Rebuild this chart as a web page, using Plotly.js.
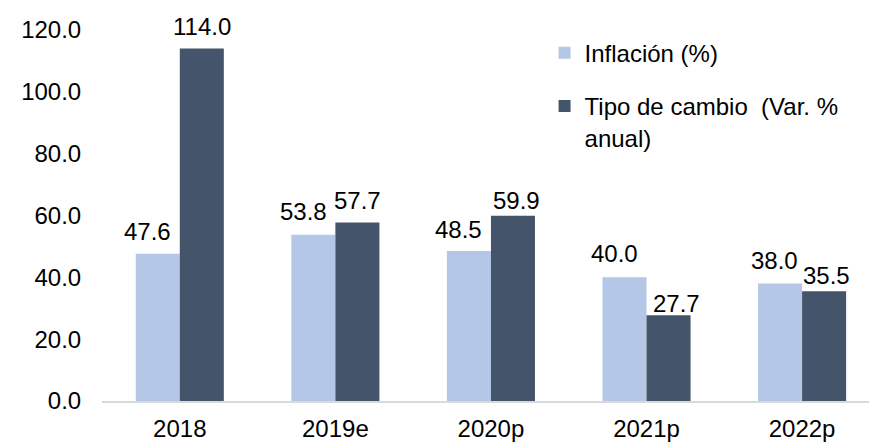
<!DOCTYPE html>
<html>
<head>
<meta charset="utf-8">
<script src="https://cdn.plot.ly/plotly-3.0.1.min.js"></script>
<style>html,body{margin:0;padding:0;background:#fff;}#chart{width:869px;height:443px;}</style>
</head>
<body>
<div id="chart"></div>
<script>
// ---- data ----
const categories = ['2018', '2019e', '2020p', '2021p', '2022p'];
const inflacion = [47.6, 53.8, 48.5, 40.0, 38.0];
const tipoCambio = [114.0, 57.7, 59.9, 27.7, 35.5];
const seriesNames = ['Inflación (%)', 'Tipo de cambio  (Var. %<br>anual)'];
const yTicks = [0, 20, 40, 60, 80, 100, 120];

// ---- label styling (pixel nudges, as in the original) ----
const inflLabelDx = [-10, -10, -10, -10, -6];
const inflLabelGap = [17, 18, 16, 18, 18];
const tcLabelDx = [0, 0, 4, 8, 2];
const tcLabelGap = [17, 17, 10, 6, 10];

const FONT = 'Liberation Sans, Arial, sans-serif';
const FS = 24;
const lightColor = '#b4c7e7';
const darkColor = '#44546a';
const halfBar = 22;

const traces = [
  { type: 'bar', name: seriesNames[0], x: categories, y: inflacion, legendgroup: 'g1',
    marker: { color: lightColor }, hoverinfo: 'x+y' },
  { type: 'bar', name: seriesNames[1], x: categories, y: tipoCambio, legendgroup: 'g2',
    marker: { color: darkColor }, hoverinfo: 'x+y' }
];

const annotations = [];
categories.forEach((c, i) => {
  annotations.push({ x: i, y: inflacion[i], xref: 'x', yref: 'y',
    text: inflacion[i].toFixed(1), showarrow: false, yanchor: 'bottom',
    xshift: -halfBar + inflLabelDx[i], yshift: inflLabelGap[i] - 10,
    font: { family: FONT, size: FS, color: '#000' } });
  annotations.push({ x: i, y: tipoCambio[i], xref: 'x', yref: 'y',
    text: tipoCambio[i].toFixed(1), showarrow: false, yanchor: 'bottom',
    xshift: halfBar + tcLabelDx[i], yshift: tcLabelGap[i] - 10,
    font: { family: FONT, size: FS, color: '#000' } });
});

const layout = {
  width: 869, height: 443,
  margin: { l: 102, r: 0, t: 30, b: 42, pad: 0 },
  paper_bgcolor: '#fff', plot_bgcolor: '#fff',
  font: { family: FONT, size: FS, color: '#000' },
  barmode: 'group', bargap: 0.434, bargroupgap: 0,
  showlegend: true,
  legend: { x: 0.577, xanchor: 'left', y: 0.998, yanchor: 'top',
    bgcolor: 'rgba(0,0,0,0)', font: { family: FONT, size: FS, color: '#000' },
    traceorder: 'grouped', tracegroupgap: 19, valign: 'top' },
  xaxis: { type: 'category', range: [-0.5, 4.43], showgrid: false, zeroline: false,
    showline: true, linecolor: '#d9d9d9', linewidth: 1.5,
    ticks: 'outside', ticklen: 6, tickcolor: 'rgba(0,0,0,0)',
    tickfont: { family: FONT, size: FS, color: '#000' }, fixedrange: true },
  yaxis: { range: [0, 120], tickvals: yTicks, tickformat: '.1f', showgrid: false,
    zeroline: false, showline: false,
    ticks: 'outside', ticklen: 15, tickcolor: 'rgba(0,0,0,0)',
    tickfont: { family: FONT, size: FS, color: '#000' }, fixedrange: true },
  annotations: annotations
};

Plotly.newPlot('chart', traces, layout, { displayModeBar: false, staticPlot: true });
</script>
</body>
</html>
